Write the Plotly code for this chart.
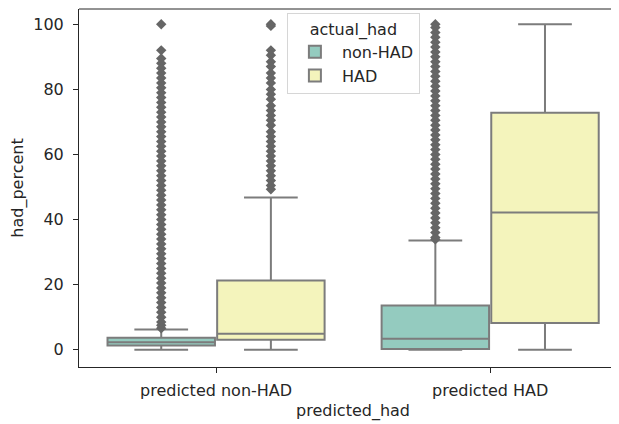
import plotly.graph_objects as go

categories = ["predicted non-HAD", "predicted HAD"]
hues = ["non-HAD", "HAD"]

# box statistics per hue, indexed by category
q1 = {"non-HAD": [1.3, 0.2], "HAD": [3.1, 8.2]}
median = {"non-HAD": [2.3, 3.4], "HAD": [4.9, 42.2]}
q3 = {"non-HAD": [3.7, 13.6], "HAD": [21.3, 72.8]}
lowerfence = {"non-HAD": [0.0, 0.0], "HAD": [0.0, 0.0]}
upperfence = {"non-HAD": [6.2, 33.6], "HAD": [46.8, 100.0]}

# outliers
out_nonhad_pred_nonhad = [100, 92, 89.5, 88, 86.5, 85, 83.5, 82, 80.5, 79, 77.5, 76, 74.5, 73, 71.5,
                          70, 68.5, 67, 65.5, 64, 62.5, 61, 59.5, 58, 56.5, 55, 53.5, 52, 50.5, 49,
                          47.5, 46, 44.5, 43, 41.5, 40, 38.5, 37, 35.5, 34, 32.5, 31, 29.5, 28, 26.5,
                          25, 23.5, 22, 20.5, 19, 17.5, 16, 14.5, 13, 11.5, 10, 8.5, 7.5, 6.6]
out_had_pred_nonhad = [100, 99.5, 92, 90.5, 88.5, 87, 85, 83.5, 82, 80, 78.5, 77, 75, 73.5, 72,
                       70.5, 69, 67, 65.5, 64, 62.5, 61, 59.5, 58, 56.5, 55, 53.5, 52, 50.5, 49.3]
out_nonhad_pred_had = [100, 99, 97.5, 96, 94.5, 93, 91.5, 90, 88.5, 87, 85.5, 84, 82.5, 81, 79.5,
                       78, 76.5, 75, 73.5, 72, 70.5, 69, 67.5, 66, 64.5, 63, 61.5, 60, 58.5, 57,
                       55.5, 54, 52.5, 51, 49.5, 48, 46.5, 45, 43.5, 42, 40.5, 39, 37.5, 36, 34.5, 33.9]
outliers = {
    "non-HAD": [out_nonhad_pred_nonhad, out_nonhad_pred_had],
    "HAD": [out_had_pred_nonhad, []],
}

y_ticks = [0, 20, 40, 60, 80, 100]

fill = {"non-HAD": "#94cbbf", "HAD": "#f4f4bc"}
line_gray = "#7c7c7c"
flier_gray = "#666666"
spine = "#262626"
box_width = 0.392
dodge = 0.4

fig = go.Figure()
for hi, h in enumerate(hues):
    pos = [ci + (hi - 0.5) * dodge for ci in range(len(categories))]
    fig.add_trace(go.Box(
        name=h, x=pos, q1=q1[h], median=median[h], q3=q3[h],
        lowerfence=lowerfence[h], upperfence=upperfence[h],
        width=box_width, whiskerwidth=0.5, boxpoints=False,
        fillcolor=fill[h], line=dict(color=line_gray, width=2),
        hoverinfo="skip", showlegend=True,
    ))
    for ci, vals in enumerate(outliers[h]):
        if not vals:
            continue
        fig.add_trace(go.Scatter(
            x=[pos[ci]] * len(vals), y=vals, mode="markers",
            marker=dict(symbol="diamond", size=8, color=flier_gray,
                        line=dict(width=0)),
            showlegend=False, hoverinfo="skip",
        ))

font = dict(family="DejaVu Sans", size=16, color="#262626")

# the page body adds an 8px offset, so the figure is sized to fit the window
fig.update_layout(
    width=611, height=416,
    margin=dict(l=71, r=0, t=1, b=57, autoexpand=False),
    paper_bgcolor="white", plot_bgcolor="white",
    font=font,
    boxmode="overlay",
    showlegend=True,
    legend=dict(
        title=dict(text="actual_had", side="top center", font=font),
        x=0.385, y=0.989, xanchor="left", yanchor="top",
        bgcolor="rgba(255,255,255,0.8)", bordercolor="#d6d6d6", borderwidth=1,
        font=font, itemsizing="constant", tracegroupgap=0, itemwidth=44,
    ),
    xaxis=dict(
        range=[-0.5, 1.47], tickmode="array",
        tickvals=list(range(len(categories))), ticktext=categories,
        showgrid=False, zeroline=False, showline=True, linecolor=spine,
        linewidth=1, mirror=False, ticks="outside", ticklen=5, tickcolor=spine,
        ticklabelstandoff=4, automargin=False,
    ),
    yaxis=dict(
        range=[-5.3, 104.7], tickmode="array", tickvals=y_ticks,
        showgrid=False, zeroline=False, showline=True, linecolor=spine,
        linewidth=1, ticks="outside", ticklen=5, tickcolor=spine,
        ticklabelstandoff=6, automargin=False,
        title=dict(text="had_percent", font=font, standoff=8),
    ),
    shapes=[dict(type="line", xref="paper", yref="paper", x0=0, x1=1, y0=1, y1=1,
                 line=dict(color=spine, width=1), layer="above")],
    annotations=[dict(
        text="predicted_had", xref="x", x=0.5, yref="paper", y=0,
        xanchor="center", yanchor="middle", yshift=-44, showarrow=False, font=font,
    )],
)

fig.write_html("out.html")
